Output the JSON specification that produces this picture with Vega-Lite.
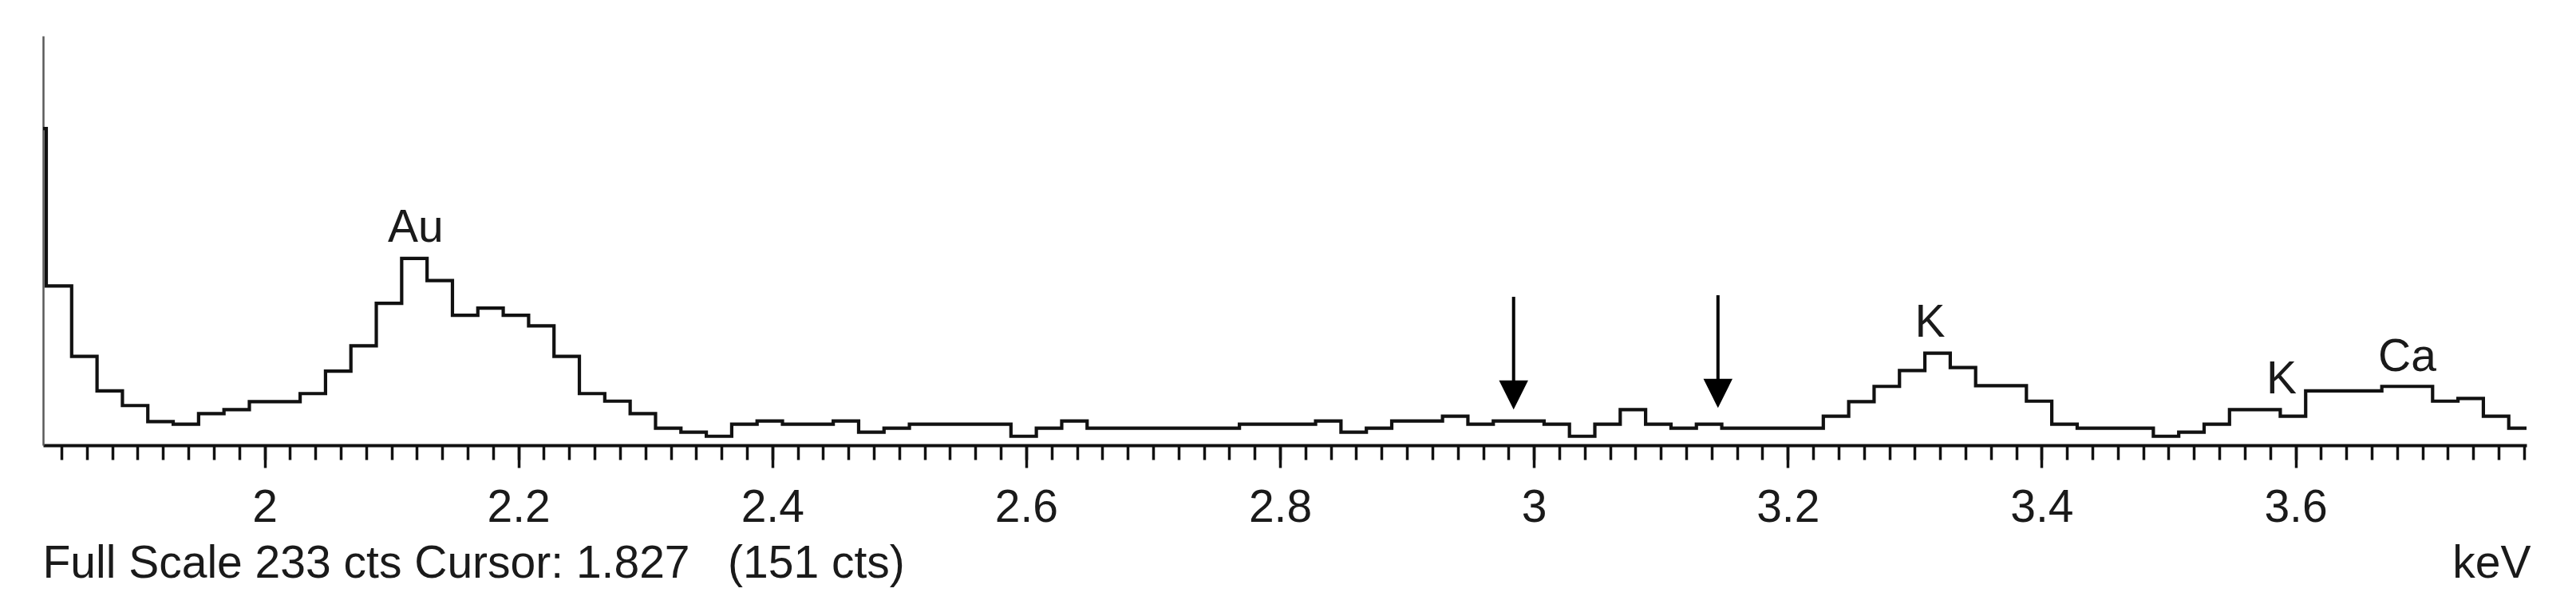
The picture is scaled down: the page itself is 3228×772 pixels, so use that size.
{
  "$schema": "https://vega.github.io/schema/vega-lite/v6.json",
  "width": 3112,
  "height": 513,
  "autosize": {"type": "none"},
  "padding": {"left": 54, "top": 45, "right": 62, "bottom": 214},
  "background": "white",
  "config": {
    "view": {"stroke": null},
    "font": "Liberation Sans",
    "axisY": {"domain": true, "domainColor": "#5a5a5a", "domainWidth": 2.5, "ticks": false, "labels": false, "grid": false},
    "axisX": {"grid": false}
  },
  "datasets": {
    "spectrum": [
      {"keV": 1.818, "cts": 180.3}, {"keV": 1.838, "cts": 90.7}, {"keV": 1.858, "cts": 50.6}, {"keV": 1.878, "cts": 30.9},
      {"keV": 1.898, "cts": 22.6}, {"keV": 1.918, "cts": 13.5}, {"keV": 1.938, "cts": 12.0}, {"keV": 1.958, "cts": 18.0},
      {"keV": 1.978, "cts": 20.3}, {"keV": 1.998, "cts": 24.8}, {"keV": 2.018, "cts": 24.8}, {"keV": 2.038, "cts": 29.4},
      {"keV": 2.058, "cts": 42.2}, {"keV": 2.078, "cts": 56.6}, {"keV": 2.098, "cts": 80.8}, {"keV": 2.118, "cts": 106.3},
      {"keV": 2.138, "cts": 93.7}, {"keV": 2.158, "cts": 74.0}, {"keV": 2.178, "cts": 78.1}, {"keV": 2.198, "cts": 74.0},
      {"keV": 2.218, "cts": 68.0}, {"keV": 2.238, "cts": 50.6}, {"keV": 2.258, "cts": 29.4}, {"keV": 2.278, "cts": 25.1},
      {"keV": 2.298, "cts": 18.0}, {"keV": 2.318, "cts": 9.7}, {"keV": 2.338, "cts": 7.4}, {"keV": 2.358, "cts": 5.1},
      {"keV": 2.378, "cts": 12.0}, {"keV": 2.398, "cts": 13.8}, {"keV": 2.418, "cts": 12.0}, {"keV": 2.438, "cts": 12.0},
      {"keV": 2.458, "cts": 13.8}, {"keV": 2.478, "cts": 7.4}, {"keV": 2.498, "cts": 9.7}, {"keV": 2.518, "cts": 12.0},
      {"keV": 2.538, "cts": 12.0}, {"keV": 2.558, "cts": 12.0}, {"keV": 2.578, "cts": 12.0}, {"keV": 2.598, "cts": 5.1},
      {"keV": 2.618, "cts": 9.7}, {"keV": 2.638, "cts": 13.8}, {"keV": 2.658, "cts": 9.7}, {"keV": 2.678, "cts": 9.7},
      {"keV": 2.698, "cts": 9.7}, {"keV": 2.718, "cts": 9.7}, {"keV": 2.738, "cts": 9.7}, {"keV": 2.758, "cts": 9.7},
      {"keV": 2.778, "cts": 12.0}, {"keV": 2.798, "cts": 12.0}, {"keV": 2.818, "cts": 12.0}, {"keV": 2.838, "cts": 13.8},
      {"keV": 2.858, "cts": 7.4}, {"keV": 2.878, "cts": 9.7}, {"keV": 2.898, "cts": 13.8}, {"keV": 2.918, "cts": 13.8},
      {"keV": 2.938, "cts": 16.5}, {"keV": 2.958, "cts": 12.0}, {"keV": 2.978, "cts": 13.8}, {"keV": 2.998, "cts": 13.8},
      {"keV": 3.018, "cts": 12.0}, {"keV": 3.038, "cts": 5.1}, {"keV": 3.058, "cts": 12.0}, {"keV": 3.078, "cts": 20.3},
      {"keV": 3.098, "cts": 12.0}, {"keV": 3.118, "cts": 9.7}, {"keV": 3.138, "cts": 12.0}, {"keV": 3.158, "cts": 9.7},
      {"keV": 3.178, "cts": 9.7}, {"keV": 3.198, "cts": 9.7}, {"keV": 3.218, "cts": 9.7}, {"keV": 3.238, "cts": 16.5},
      {"keV": 3.258, "cts": 24.8}, {"keV": 3.278, "cts": 33.5}, {"keV": 3.298, "cts": 42.5}, {"keV": 3.318, "cts": 52.4},
      {"keV": 3.338, "cts": 44.2}, {"keV": 3.358, "cts": 33.9}, {"keV": 3.378, "cts": 33.9}, {"keV": 3.398, "cts": 25.1},
      {"keV": 3.418, "cts": 12.0}, {"keV": 3.438, "cts": 9.7}, {"keV": 3.458, "cts": 9.7}, {"keV": 3.478, "cts": 9.7},
      {"keV": 3.498, "cts": 5.1}, {"keV": 3.518, "cts": 7.4}, {"keV": 3.538, "cts": 12.0}, {"keV": 3.558, "cts": 20.3},
      {"keV": 3.578, "cts": 20.3}, {"keV": 3.598, "cts": 16.5}, {"keV": 3.618, "cts": 30.9}, {"keV": 3.638, "cts": 30.9},
      {"keV": 3.658, "cts": 30.9}, {"keV": 3.678, "cts": 33.5}, {"keV": 3.698, "cts": 33.5}, {"keV": 3.718, "cts": 25.1},
      {"keV": 3.738, "cts": 26.6}, {"keV": 3.758, "cts": 16.5}, {"keV": 3.778, "cts": 9.7}, {"keV": 3.798, "cts": 9.7}
    ],
    "arrows": [
      {"keV": 2.984, "top": 84.5, "head": 28.6},
      {"keV": 3.145, "top": 85.4, "head": 29.5}
    ],
    "labels": [
      {"keV": 2.119, "cts": 115.8, "label": "Au"},
      {"keV": 3.312, "cts": 61.8, "label": "K"},
      {"keV": 3.589, "cts": 29.5, "label": "K"},
      {"keV": 3.688, "cts": 42.2, "label": "Ca"}
    ]
  },
  "layer": [
    {
      "data": {"name": "spectrum"},
      "mark": {"type": "line", "interpolate": "step", "clip": true, "stroke": "#111111", "strokeWidth": 4.2},
      "encoding": {
        "x": {
          "field": "keV", "type": "quantitative",
          "scale": {"domain": [1.8255, 3.782], "nice": false, "zero": false},
          "axis": {
            "orient": "bottom",
            "values": [1.84,1.86,1.88,1.9,1.92,1.94,1.96,1.98,2,2.02,2.04,2.06,2.08,2.1,2.12,2.14,2.16,2.18,2.2,2.22,2.24,2.26,2.28,2.3,2.32,2.34,2.36,2.38,2.4,2.42,2.44,2.46,2.48,2.5,2.52,2.54,2.56,2.58,2.6,2.62,2.64,2.66,2.68,2.7,2.72,2.74,2.76,2.78,2.8,2.82,2.84,2.86,2.88,2.9,2.92,2.94,2.96,2.98,3,3.02,3.04,3.06,3.08,3.1,3.12,3.14,3.16,3.18,3.2,3.22,3.24,3.26,3.28,3.3,3.32,3.34,3.36,3.38,3.4,3.42,3.44,3.46,3.48,3.5,3.52,3.54,3.56,3.58,3.6,3.62,3.64,3.66,3.68,3.7,3.72,3.74,3.76,3.78],
            "tickSize": 18, "tickWidth": 3.5, "tickColor": "#111111",
            "labels": false,
            "domain": true, "domainColor": "#111111", "domainWidth": 4,
            "title": "Full Scale 233 cts Cursor: 1.827\u00a0\u00a0\u00a0(151 cts)",
            "titleAnchor": "start", "titleAlign": "left", "titleBaseline": "alphabetic",
            "titleX": -1, "titleY": 165,
            "titleFont": "Liberation Sans", "titleFontSize": 57, "titleFontWeight": "normal", "titleColor": "#1a1a1a"
          }
        },
        "y": {"field": "cts", "type": "quantitative", "scale": {"domain": [0, 233], "nice": false}, "title": null}
      }
    },
    {
      "data": {"name": "arrows"},
      "mark": {"type": "rule", "stroke": "#000000", "strokeWidth": 4},
      "encoding": {
        "x": {
          "field": "keV", "type": "quantitative",
          "axis": {
            "orient": "bottom",
            "values": [2, 2.2, 2.4, 2.6, 2.8, 3, 3.2, 3.4, 3.6],
            "format": "~g",
            "tickSize": 28, "tickWidth": 3.5, "tickColor": "#111111",
            "domain": false,
            "labelFont": "Liberation Sans", "labelFontSize": 57, "labelColor": "#1a1a1a",
            "labelBaseline": "alphabetic", "labelPadding": 67, "labelFlush": false, "labelOverlap": false,
            "title": "keV",
            "titleAnchor": "end", "titleAlign": "right", "titleBaseline": "alphabetic",
            "titleX": 3117, "titleY": 165,
            "titleFont": "Liberation Sans", "titleFontSize": 57, "titleFontWeight": "normal", "titleColor": "#1a1a1a"
          }
        },
        "y": {"field": "top", "type": "quantitative", "title": null},
        "y2": {"field": "head"}
      }
    },
    {
      "data": {"name": "arrows"},
      "mark": {"type": "point", "shape": "M-1,-1L1,-1L0,1Z", "filled": true, "fill": "#000000", "stroke": null, "opacity": 1, "size": 1330},
      "encoding": {
        "x": {"field": "keV", "type": "quantitative", "axis": null},
        "y": {"field": "head", "type": "quantitative", "title": null}
      }
    },
    {
      "data": {"name": "labels"},
      "mark": {"type": "text", "font": "Liberation Sans", "fontSize": 57, "align": "center", "baseline": "alphabetic", "fill": "#1a1a1a"},
      "encoding": {
        "x": {"field": "keV", "type": "quantitative", "axis": null},
        "y": {"field": "cts", "type": "quantitative", "title": null},
        "text": {"field": "label"}
      }
    }
  ],
  "resolve": {"axis": {"x": "independent"}}
}
